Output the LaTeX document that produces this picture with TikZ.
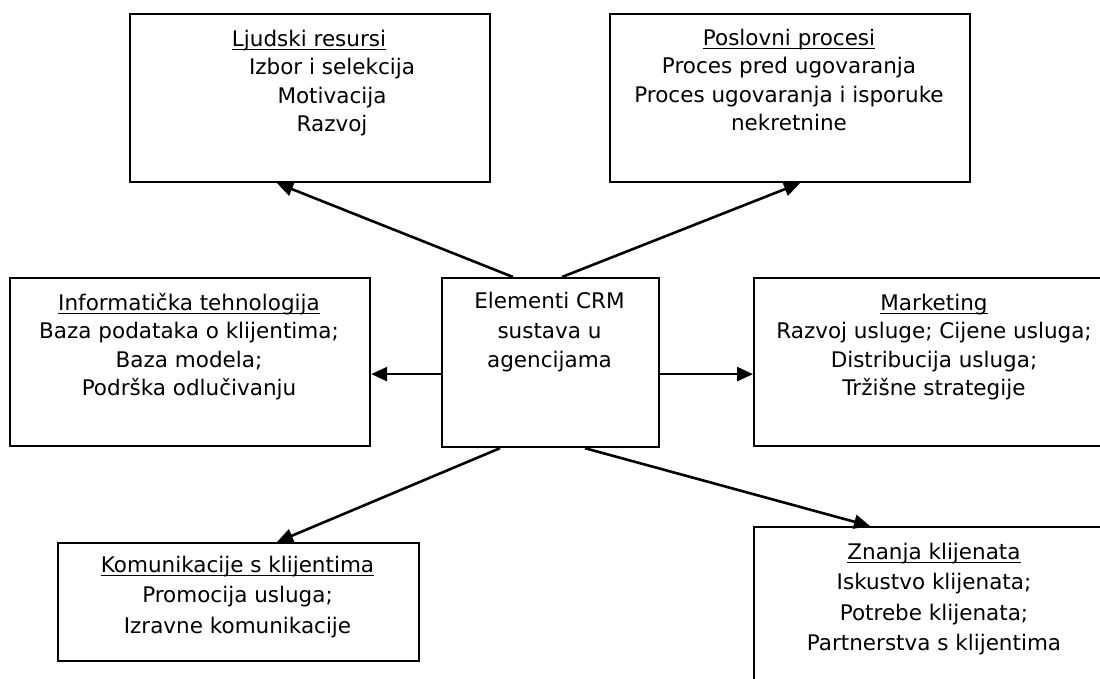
\documentclass[tikz,border=0pt]{standalone}
\usepackage{fontspec}
\setmainfont{DejaVu Sans}
\usetikzlibrary{arrows.meta}
\newcommand\ulx[1]{\setbox0\hbox{#1}\rlap{\rule[-4.3pt]{\wd0}{1.8pt}}\box0}
\tikzset{
  box/.style={draw, line width=2.2pt, rectangle, inner sep=0, anchor=north west},
  txt/.style={anchor=north, inner sep=0, align=center, font=\fontsize{21.5}{28.5}\selectfont},
  txtw/.style={anchor=north, inner sep=0, align=center, font=\fontsize{21.5}{30.5}\selectfont},
  arr/.style={line width=2.6pt, -{Triangle[length=16pt,width=14pt]}}
}
\begin{document}
\begin{tikzpicture}[x=1pt,y=-1pt]
\useasboundingbox (0,0) rectangle (1100,679);
\clip (0,0) rectangle (1100,679);
\fill[white] (0,0) rectangle (1100,679);
% boxes
\node[box, minimum width=360pt, minimum height=168pt] (hr) at (129,13) {};
\node[box, minimum width=360pt, minimum height=168pt] (bp) at (609,13) {};
\node[box, minimum width=360pt, minimum height=168pt] (it) at (9,277) {};
\node[box, minimum width=217pt, minimum height=169pt] (c) at (441,277) {};
\node[box, minimum width=362pt, minimum height=168pt] (mk) at (753,277) {};
\node[box, minimum width=361pt, minimum height=118pt] (kk) at (57,542) {};
\node[box, minimum width=362pt, minimum height=200pt] (zk) at (753,526) {};
% texts
\node[txt] (hrt) at (309,26) {\strut\ulx{Ljudski resursi}\\
  \hspace*{46pt}Izbor i selekcija\\
  \hspace*{46pt}Motivacija\\
  \hspace*{46pt}Razvoj};
\node[txt] (bpt) at (789,25) {\strut\ulx{Poslovni procesi}\\
  Proces pred ugovaranja\\
  Proces ugovaranja i isporuke\\
  nekretnine};
\node[txt] (itt) at (189,290) {\strut\ulx{Informatička tehnologija}\\
  Baza podataka o klijentima;\\
  Baza modela;\\
  Podrška odlučivanju};
\node[txt, font=\fontsize{21.5}{29.5}\selectfont] (ct) at (549.5,288) {\strut Elementi CRM\\
  sustava u\\
  agencijama};
\node[txt] (mkt) at (934,290) {\strut\ulx{Marketing}\\
  Razvoj usluge; Cijene usluga;\\
  Distribucija usluga;\\
  Tržišne strategije};
\node[txtw] (kkt) at (237.5,550.6) {\strut\ulx{Komunikacije s klijentima}\\
  Promocija usluga;\\
  Izravne komunikacije};
\node[txtw] (zkt) at (934,537.6) {\strut\ulx{Znanja klijenata}\\
  Iskustvo klijenata;\\
  Potrebe klijenata;\\
  Partnerstva s klijentima};
% connectors
\draw[arr] ([xshift=72pt]c.north west) -- ([xshift=148pt]hr.south west);
\draw[arr] ([xshift=121pt]c.north west) -- ([xshift=191pt]bp.south west);
\draw[arr] ([yshift=-11.5pt]c.west) -- ([yshift=-12pt]it.east);
\draw[arr] ([yshift=-11.5pt]c.east) -- ([yshift=-12pt]mk.west);
\draw[arr] ([xshift=59pt]c.south west) -- ([xshift=220pt]kk.north west);
\draw[arr] ([xshift=144pt]c.south west) -- ([xshift=117pt]zk.north west);
\end{tikzpicture}
\end{document}
